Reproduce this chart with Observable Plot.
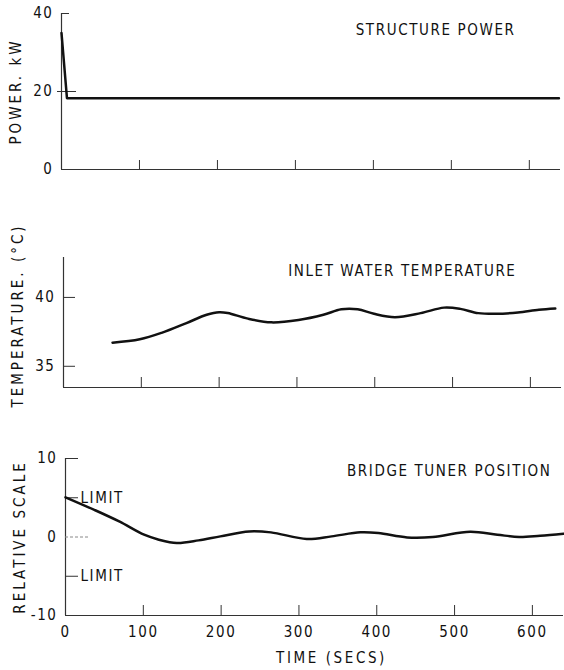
<!DOCTYPE html>
<html><head><meta charset="utf-8">
<script src="https://cdn.jsdelivr.net/npm/d3@7"></script>
<script src="https://cdn.jsdelivr.net/npm/@observablehq/plot@0.6"></script>
<style>
body{margin:0;background:#fff;}
#chart{position:relative;width:564px;height:670px;background:#fff;overflow:hidden;}
#chart svg{position:absolute;left:0;}
#chart text{letter-spacing:1.6px;}
</style></head><body><div id="chart"></div>
<script>
// ---- data ----
const xTicks = [100, 200, 300, 400, 500, 600];
const xTickLabels = [0, 100, 200, 300, 400, 500, 600];

const powerTime = [0, 7, 638];
const powerKW = [35, 18.3, 18.3];
const powerYTicks = [0, 20, 40];

const tempTime = [63, 98, 126, 158, 184, 200, 211, 237, 267, 302, 334, 357, 378, 399, 426, 459, 489, 510, 533, 556, 584, 611, 632];
const tempC = [36.71, 36.96, 37.43, 38.14, 38.74, 38.93, 38.87, 38.46, 38.19, 38.36, 38.74, 39.14, 39.14, 38.81, 38.57, 38.86, 39.26, 39.17, 38.86, 38.81, 38.9, 39.1, 39.19];
const tempYTicks = [35, 40];

const tunerTime = [0, 37, 69, 101, 120, 143, 171, 199, 236, 264, 310, 342, 379, 402, 439, 472, 520, 555, 583, 610, 640];
const tunerPos = [5.06, 3.46, 1.98, 0.29, -0.34, -0.76, -0.43, 0.08, 0.71, 0.59, -0.25, 0.08, 0.59, 0.5, -0.05, 0, 0.67, 0.29, 0, 0.17, 0.42];
const tunerYTicks = [-10, 0, 10];
const limitValues = [5, -5];

const titles = ["STRUCTURE POWER", "INLET WATER TEMPERATURE", "BRIDGE TUNER POSITION"];
const yLabels = ["POWER. kW", "TEMPERATURE. (°C)", "RELATIVE SCALE"];
const xLabel = "TIME (SECS)";

// ---- helpers ----
const font = "'DejaVu Sans Condensed', 'Liberation Sans Narrow', 'DejaVu Sans', sans-serif";
const style = {fontFamily: font, fontSize: "15px", color: "#111", background: "transparent", overflow: "visible"};
const rows = (xs, ys) => xs.map((t, i) => ({t, v: ys[i]}));
const fmt = d => String(d);
const axisStroke = "#333";
const chart = document.getElementById("chart");
function place(svg, top) {
  svg.style.position = "absolute"; svg.style.top = top + "px"; svg.style.left = "0px";
  svg.querySelectorAll("text").forEach(t => {
    const s = t.textContent;
    if (yLabels.includes(s)) t.style.letterSpacing = "3px";
    else if (s === xLabel) t.style.letterSpacing = "2.6px";
  });
  chart.appendChild(svg);
}
const yLabelOpts = {text: d => d, frameAnchor: "left", rotate: -90, textAnchor: "middle", lineAnchor: "middle"};

// ---- panel 1: structure power ----
{
  const W = 564, H = 185, mL = 61, mR = 4, mT = 13, mB = 16;
  const fw = W - mL - mR, fh = H - mT - mB;
  const p = Plot.plot({
    width: W, height: H, marginLeft: mL, marginRight: mR, marginTop: mT, marginBottom: mB,
    x: {domain: [0, 640], axis: null}, y: {domain: [0, 40]},
    style,
    marks: [
      Plot.ruleX([0], {stroke: axisStroke, strokeWidth: 1.2}),
      Plot.ruleY([0], {stroke: axisStroke, strokeWidth: 1.2}),
      Plot.ruleX(xTicks, {stroke: axisStroke, insetTop: fh - 9}),
      Plot.ruleY([40], {stroke: axisStroke, insetRight: fw - 8}),
      Plot.ruleY([20], {stroke: axisStroke, insetLeft: -4, insetRight: fw - 15}),
      Plot.axisY(powerYTicks, {tickSize: 0, tickPadding: 8, label: null, tickFormat: fmt}),
      Plot.line(rows(powerTime, powerKW), {x: "t", y: "v", stroke: "#111", strokeWidth: 2.5, strokeLinejoin: "round"}),
      Plot.text([titles[0]], {text: d => d, frameAnchor: "top-right", textAnchor: "end", lineAnchor: "middle", dx: -45, dy: 16.5}),
      Plot.text([yLabels[0]], {...yLabelOpts, dx: -45})
    ]
  });
  place(p, 0);
}

// ---- panel 2: inlet water temperature ----
{
  const W = 564, H = 160, mL = 63, mR = 3, mT = 17, mB = 13;
  const fw = W - mL - mR, fh = H - mT - mB;
  const p = Plot.plot({
    width: W, height: H, marginLeft: mL, marginRight: mR, marginTop: mT, marginBottom: mB,
    x: {domain: [0, 640], axis: null}, y: {domain: [33.46, 42.9]},
    style,
    marks: [
      Plot.ruleX([0], {stroke: axisStroke, strokeWidth: 1.2}),
      Plot.ruleY([33.46], {stroke: axisStroke, strokeWidth: 1.2}),
      Plot.ruleX(xTicks, {stroke: axisStroke, insetTop: fh - 10}),
      Plot.ruleY(tempYTicks, {stroke: axisStroke, insetRight: fw - 12}),
      Plot.axisY(tempYTicks, {tickSize: 0, tickPadding: 8, label: null, tickFormat: fmt}),
      Plot.line(rows(tempTime, tempC), {x: "t", y: "v", stroke: "#111", strokeWidth: 2.5, curve: "catmull-rom"}),
      Plot.text([titles[1]], {text: d => d, frameAnchor: "top-right", textAnchor: "end", lineAnchor: "middle", dx: -45, dy: 14}),
      Plot.text([yLabels[1]], {...yLabelOpts, dx: -45, dy: -7})
    ]
  });
  place(p, 240);
}

// ---- panel 3: bridge tuner position ----
{
  const W = 564, H = 230, mL = 65, mR = 1, mT = 18, mB = 55;
  const fw = W - mL - mR, fh = H - mT - mB;
  const p = Plot.plot({
    width: W, height: H, marginLeft: mL, marginRight: mR, marginTop: mT, marginBottom: mB,
    x: {domain: [0, 640]}, y: {domain: [-10, 10]},
    style,
    marks: [
      Plot.ruleX([0], {stroke: axisStroke, strokeWidth: 1.2}),
      Plot.ruleY([-10], {stroke: axisStroke, strokeWidth: 1.2}),
      Plot.ruleX(xTicks, {stroke: axisStroke, insetTop: fh - 10}),
      Plot.ruleY([10], {stroke: axisStroke, insetRight: fw - 13}),
      Plot.ruleY(limitValues, {stroke: axisStroke, insetRight: fw - 13}),
      Plot.ruleY([0], {stroke: "#888", strokeDasharray: "3,2", insetRight: fw - 24}),
      Plot.text(limitValues, {y: d => d, text: () => "LIMIT", frameAnchor: "left", textAnchor: "start", lineAnchor: "middle", dx: 15}),
      Plot.axisY(tunerYTicks, {tickSize: 0, tickPadding: 8, label: null, tickFormat: fmt}),
      Plot.axisX(xTickLabels, {tickSize: 0, tickPadding: 11, label: null, tickFormat: fmt}),
      Plot.line(rows(tunerTime, tunerPos), {x: "t", y: "v", stroke: "#111", strokeWidth: 2.5, curve: "catmull-rom"}),
      Plot.text([titles[2]], {text: d => d, frameAnchor: "top-right", textAnchor: "end", lineAnchor: "middle", dx: -12, dy: 13}),
      Plot.text([yLabels[2]], {...yLabelOpts, dx: -45}),
      Plot.text([xLabel], {text: d => d, frameAnchor: "bottom", lineAnchor: "middle", dx: 17, dy: 43})
    ]
  });
  place(p, 440);
}
</script>
</body></html>
